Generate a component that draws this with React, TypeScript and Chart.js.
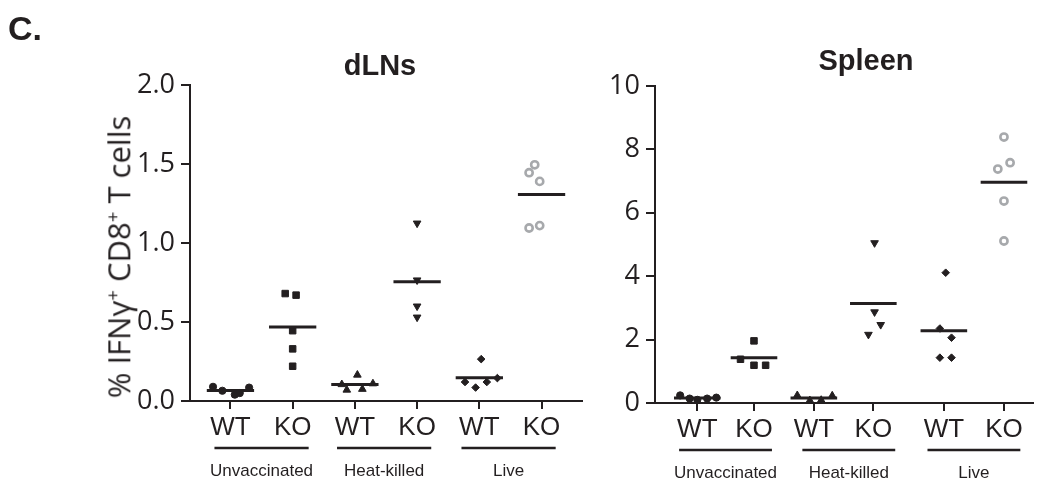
import React, { useEffect, useRef } from "react";
import { Chart, registerables } from "chart.js";

Chart.register(...registerables);

const INK = "#231f20";
const GREY = "#a7a9ac";

// ---------- shared categories ----------
const tickLabels = ["WT", "KO", "WT", "KO", "WT", "KO"];
const groupLabels = ["Unvaccinated", "Heat-killed", "Live"];

// ---------- dLNs panel ----------
const dlnsPositions = [0, 1, 2, 3, 4, 5];
const dlnsGroupCenters = [0.5, 2.47, 4.47];
const dlnsYTicks = [0, 0.5, 1.0, 1.5, 2.0];
const dlnsYLabels = ["0.0", "0.5", "1.0", "1.5", "2.0"];
const dlnsWtUnvac = [0.09, 0.065, 0.04, 0.05, 0.085];
const dlnsKoUnvac = [0.68, 0.67, 0.445, 0.33, 0.22];
const dlnsWtHeat = [0.165, 0.105, 0.07, 0.075, 0.11];
const dlnsKoHeat = [1.125, 0.765, 0.6, 0.53];
const dlnsWtLive = [0.265, 0.12, 0.085, 0.12, 0.145];
const dlnsKoLive = [1.495, 1.445, 1.39, 1.095, 1.11];
const dlnsJitter = [
  [-0.28, -0.13, 0.07, 0.15, 0.3],
  [-0.12, 0.055, 0, 0, 0],
  [0.04, -0.21, -0.13, 0.12, 0.29],
  [0, 0, 0, 0],
  [0.03, -0.23, -0.06, 0.12, 0.29],
  [-0.11, -0.2, -0.03, -0.2, -0.03],
];

// ---------- Spleen panel ----------
const spleenPositions = [0, 0.924, 1.9, 2.87, 4.02, 5];
const spleenGroupCenters = [0.46, 2.47, 4.51];
const spleenYTicks = [0, 2, 4, 6, 8, 10];
const spleenYLabels = ["0", "2", "4", "6", "8", "10"];
const spleenWtUnvac = [0.24, 0.14, 0.1, 0.14, 0.17];
const spleenKoUnvac = [1.96, 1.38, 1.19, 1.19];
const spleenWtHeat = [0.24, 0.08, 0.09, 0.23];
const spleenKoHeat = [5.05, 2.87, 2.47, 2.16];
const spleenWtLive = [4.11, 2.35, 2.06, 1.43, 1.43];
const spleenKoLive = [8.39, 7.38, 7.58, 6.37, 5.11];
const spleenJitter = [
  [-0.28, -0.125, 0, 0.16, 0.31],
  [0, -0.22, 0, 0.19],
  [-0.27, -0.065, 0.12, 0.3],
  [0.02, 0.02, 0.12, -0.08],
  [0.03, -0.065, 0.125, -0.065, 0.125],
  [0, -0.1, 0.1, 0, 0],
];

// marker styles, one per column
const markers = [
  { pointStyle: "circle", radius: 3.6, rotation: 0, fill: INK, stroke: INK, bw: 1 },
  { pointStyle: "rect", radius: 4.6, rotation: 0, fill: INK, stroke: INK, bw: 1 },
  { pointStyle: "triangle", radius: 4.4, rotation: 0, fill: INK, stroke: INK, bw: 1 },
  { pointStyle: "triangle", radius: 4.4, rotation: 180, fill: INK, stroke: INK, bw: 1 },
  { pointStyle: "rectRot", radius: 3.8, rotation: 0, fill: INK, stroke: INK, bw: 1 },
  { pointStyle: "circle", radius: 3.6, rotation: 0, fill: "#ffffff", stroke: GREY, bw: 2.6 },
];

const groupPlugin = {
  id: "groups",
  afterDraw(chart: any, _args: any, opts: any) {
    const { ctx, chartArea } = chart;
    const x = chart.scales.x;
    ctx.save();
    opts.centers.forEach((c: number, i: number) => {
      const l = x.getPixelForValue(c - opts.half);
      const r = x.getPixelForValue(c + opts.half);
      ctx.strokeStyle = INK;
      ctx.lineWidth = 2.6;
      ctx.beginPath();
      ctx.moveTo(l, chartArea.bottom + 47);
      ctx.lineTo(r, chartArea.bottom + 47);
      ctx.stroke();
      ctx.font = '17px "Liberation Sans", Arial, sans-serif';
      ctx.textAlign = "center";
      ctx.textBaseline = "middle";
      ctx.fillStyle = INK;
      ctx.fillText(opts.labels[i], (l + r) / 2, chartArea.bottom + 70);
    });
    ctx.restore();
  },
};

type PanelProps = {
  columns: number[][];
  jitter: number[][];
  positions: number[];
  centers: number[];
  yTicks: number[];
  yLabels: string[];
  yMax: number;
  xMin: number;
  xMax: number;
  left: number;
  width: number;
  yAxisWidth: number;
  padTop: number;
  padRight: number;
  xAxisHeight: number;
};

function Panel(p: PanelProps) {
  const ref = useRef<HTMLCanvasElement | null>(null);
  useEffect(() => {
    if (!ref.current) return;
    const meanSets = p.columns.map((vals, i) => {
      const m = vals.reduce((a, b) => a + b, 0) / vals.length;
      return {
        type: "scatter",
        data: [
          { x: p.positions[i] - 0.38, y: m },
          { x: p.positions[i] + 0.38, y: m },
        ],
        showLine: true,
        borderColor: INK,
        borderWidth: 3,
        pointRadius: 0,
        fill: false,
      };
    });
    const pointSets = p.columns.map((vals, i) => {
      const mk = markers[i];
      return {
        type: "scatter",
        data: vals.map((v, j) => ({ x: p.positions[i] + p.jitter[i][j], y: v })),
        pointStyle: mk.pointStyle,
        pointRadius: mk.radius,
        rotation: mk.rotation,
        backgroundColor: mk.fill,
        borderColor: mk.stroke,
        borderWidth: mk.bw,
        clip: false,
      };
    });
    const chart = new Chart(ref.current, {
      type: "scatter",
      data: { datasets: [...meanSets, ...pointSets] as any },
      plugins: [groupPlugin as any],
      options: {
        animation: false,
        responsive: false,
        devicePixelRatio: 1,
        layout: { padding: { top: p.padTop, right: p.padRight, left: 0, bottom: 0 } },
        plugins: {
          legend: { display: false },
          tooltip: { enabled: false },
          groups: { centers: p.centers, labels: groupLabels, half: 0.757 },
        } as any,
        scales: {
          x: {
            type: "linear",
            min: p.xMin,
            max: p.xMax,
            afterBuildTicks: (s: any) => {
              s.ticks = p.positions.map((v) => ({ value: v }));
            },
            afterFit: (s: any) => {
              s.height = p.xAxisHeight;
            },
            ticks: {
              callback: (_v: any, i: number) => tickLabels[i],
              font: { family: '"Liberation Sans", Arial, sans-serif', size: 26 },
              color: INK,
              padding: 3,
              maxRotation: 0,
              autoSkip: false,
            },
            grid: { drawOnChartArea: false, drawTicks: true, tickLength: 8, color: INK, lineWidth: 2 },
            border: { color: INK, width: 2 },
          },
          y: {
            type: "linear",
            min: 0,
            max: p.yMax,
            afterBuildTicks: (s: any) => {
              s.ticks = p.yTicks.map((v) => ({ value: v }));
            },
            afterFit: (s: any) => {
              s.width = p.yAxisWidth;
            },
            ticks: {
              callback: (_v: any, i: number) => p.yLabels[i],
              font: { family: '"Open Sans", sans-serif', size: 27 },
              color: INK,
              padding: 6,
            },
            grid: { drawOnChartArea: false, drawTicks: true, tickLength: 9, color: INK, lineWidth: 2 },
            border: { color: INK, width: 2 },
          },
        },
      } as any,
    });
    return () => chart.destroy();
  }, []);
  return (
    <canvas
      ref={ref}
      width={p.width}
      height={483}
      style={{ position: "absolute", left: p.left, top: 0, width: p.width, height: 483 }}
    />
  );
}

export default function App() {
  return (
    <div
      style={{
        position: "fixed",
        left: 0,
        top: 0,
        width: 1040,
        height: 483,
        background: "#ffffff",
        overflow: "hidden",
        color: INK,
      }}
    >
      <Panel
        columns={[dlnsWtUnvac, dlnsKoUnvac, dlnsWtHeat, dlnsKoHeat, dlnsWtLive, dlnsKoLive]}
        jitter={dlnsJitter}
        positions={dlnsPositions}
        centers={dlnsGroupCenters}
        yTicks={dlnsYTicks}
        yLabels={dlnsYLabels}
        yMax={2}
        xMin={-0.65}
        xMax={5.65}
        left={0}
        width={620}
        yAxisWidth={190}
        padTop={85}
        padRight={38}
        xAxisHeight={82}
      />
      <Panel
        columns={[spleenWtUnvac, spleenKoUnvac, spleenWtHeat, spleenKoHeat, spleenWtLive, spleenKoLive]}
        jitter={spleenJitter}
        positions={spleenPositions}
        centers={spleenGroupCenters}
        yTicks={spleenYTicks}
        yLabels={spleenYLabels}
        yMax={10}
        xMin={-0.69}
        xMax={5.48}
        left={600}
        width={440}
        yAxisWidth={55}
        padTop={86}
        padRight={4}
        xAxisHeight={80}
      />
      <div
        style={{
          position: "absolute",
          left: 8,
          top: 11,
          font: 'bold 34px "Liberation Sans", Arial, sans-serif',
          lineHeight: 1,
        }}
      >
        C.
      </div>
      <div
        style={{
          position: "absolute",
          left: 380,
          top: 51,
          transform: "translateX(-50%)",
          font: 'bold 29px "Liberation Sans", Arial, sans-serif',
          lineHeight: 1,
          whiteSpace: "nowrap",
        }}
      >
        dLNs
      </div>
      <div
        style={{
          position: "absolute",
          left: 866,
          top: 46,
          transform: "translateX(-50%)",
          font: 'bold 29px "Liberation Sans", Arial, sans-serif',
          lineHeight: 1,
          whiteSpace: "nowrap",
        }}
      >
        Spleen
      </div>
      <div
        style={{
          position: "absolute",
          left: 119,
          top: 257,
          transform: "translate(-50%, -50%) rotate(-90deg)",
          font: '31px "Open Sans", sans-serif',
          lineHeight: 1,
          whiteSpace: "nowrap",
        }}
      >
        % IFNγ<sup style={{ fontSize: "0.6em" }}>+</sup> CD8<sup style={{ fontSize: "0.6em" }}>+</sup> T cells
      </div>
    </div>
  );
}
